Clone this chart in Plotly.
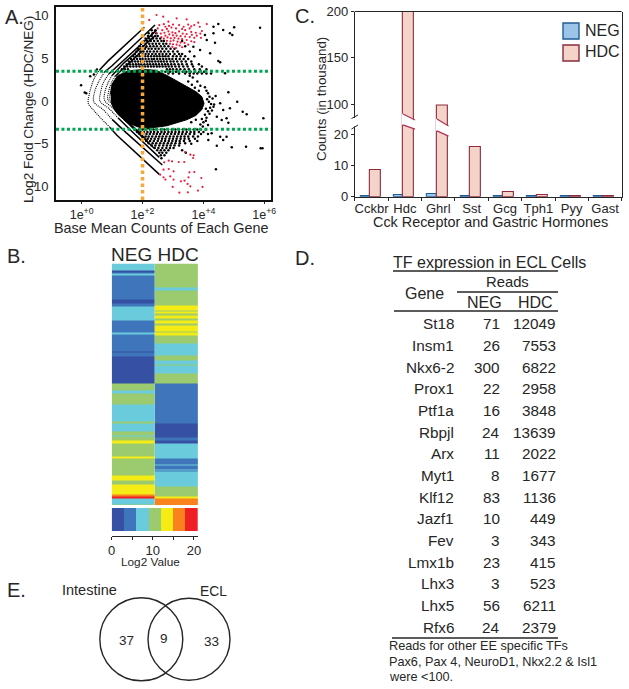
import plotly.graph_objects as go

W, H = 629, 689
FONT = "Liberation Sans"
INK = "#262626"

def px(v):
    return v / W

def py(v):
    return 1 - v / H

# ---------- Panel A data: log10 base mean / log2 fold change
CORE_LX = [0.95, 1.0, 1.2, 1.5, 2.0, 2.45, 2.8, 3.2, 3.45, 3.75, 3.95, 4.02, 3.95, 3.75, 3.45, 3.1, 2.8, 2.4, 2.05, 1.75, 1.45, 1.2, 1.05, 0.97]
CORE_Y = [0.8, 2.0, 3.0, 3.5, 3.7, 3.6, 3.0, 2.2, 1.6, 1.1, 0.5, -0.3, -1.0, -1.7, -2.2, -2.6, -2.9, -3.1, -3.3, -2.9, -2.4, -1.6, -0.9, -0.2]

ARM_LX = [
    [0.6, 0.87, 2.06], [0.75, 0.99, 2.41], [0.9, 1.2, 2.46], [1.0, 1.4, 2.4], [1.1, 1.5, 2.15],
    [0.93, 1.15, 2.55], [1.0, 1.46, 2.65], [1.2, 1.6, 2.55], [1.4, 1.8, 2.4], [1.5, 1.9, 2.2],
]
ARM_Y = [
    [3.7, 4.7, 8.65], [3.4, 4.1, 8.9], [3.2, 4.2, 8.3], [3.0, 4.5, 7.6], [2.9, 4.2, 6.4],
    [-3.1, -3.98, -8.6], [-2.15, -3.7, -7.5], [-2.0, -3.4, -6.6], [-2.2, -3.6, -5.6], [-2.4, -3.7, -4.9],
]
FAN_LX = [
    [0.6, 0.42, 0.25, 0.22, 0.35, 0.6, 0.93],
    [0.75, 0.55, 0.42, 0.4, 0.7, 1.0],
    [0.9, 0.72, 0.62, 0.6, 0.9, 1.2],
    [1.0, 0.85, 0.76, 0.75, 1.05, 1.4],
    [1.1, 0.95, 0.88, 0.86, 1.15, 1.5],
    [1.2, 1.02, 0.95, 0.93, 1.2, 1.6],
]
FAN_Y = [
    [3.7, 2.7, 0.8, -0.3, -0.9, -1.9, -3.1],
    [3.4, 2.2, 1.0, -0.1, -1.0, -2.15],
    [3.2, 2.2, 1.0, 0.0, -0.9, -2.0],
    [3.0, 2.0, 1.0, 0.1, -0.9, -2.2],
    [2.9, 1.9, 1.0, 0.2, -0.8, -2.4],
    [3.1, 2.0, 1.1, 0.2, -0.9, -2.5],
]

ROW_Y = [8.3, 7.95, 7.62, 7.33, 7.02, 6.72, 6.41, 6.12, 5.81, 5.52, 5.23, 4.92, 4.63, 4.32, 4.03, 3.72,
         3.42, 3.21, -3.35, -3.62, -3.88, -4.15, -4.42, -4.68, -4.95, -5.22, -5.5, -5.78, -6.05, -6.35, -6.7]
ROW_LX = [
    [2.3, 2.42],
    [2.2, 2.33, 2.45],
    [2.18, 2.3, 2.42, 2.5],
    [2.1, 2.22, 2.34, 2.46, 2.58],
    [2.05, 2.15, 2.27, 2.38, 2.5, 2.62, 2.7, 3.3],
    [1.95, 2.1, 2.22, 2.33, 2.44, 2.55, 2.68, 2.78],
    [1.9, 2.02, 2.13, 2.25, 2.36, 2.47, 2.6, 2.72, 2.85, 3.4],
    [1.85, 1.97, 2.08, 2.2, 2.3, 2.42, 2.53, 2.65, 2.78, 2.92, 3.05],
    [1.8, 1.93, 2.03, 2.15, 2.25, 2.37, 2.48, 2.6, 2.72, 2.85, 3.0, 3.15, 3.55],
    [1.75, 1.88, 2.0, 2.1, 2.2, 2.32, 2.43, 2.55, 2.66, 2.78, 2.9, 3.05, 3.2, 3.3],
    [1.7, 1.8, 1.9, 2.0, 2.09, 2.18, 2.28, 2.38, 2.47, 2.56, 2.66, 2.75, 2.85, 3.0, 3.12, 3.25, 3.4, 3.7],
    [1.62, 1.72, 1.82, 1.92, 2.0, 2.1, 2.2, 2.3, 2.38, 2.48, 2.58, 2.68, 2.78, 2.88, 2.98, 3.1, 3.22, 3.35, 3.5],
    [1.55, 1.66, 1.76, 1.85, 1.95, 2.04, 2.14, 2.23, 2.32, 2.42, 2.52, 2.61, 2.7, 2.8, 2.92, 3.02, 3.14, 3.28, 3.42, 3.6],
    [1.48, 1.58, 1.68, 1.78, 1.87, 1.96, 2.06, 2.16, 2.25, 2.35, 2.44, 2.54, 2.64, 2.74, 2.83, 2.94, 3.05, 3.18, 3.3, 3.45, 3.62, 3.85],
    [1.4, 1.5, 1.6, 1.7, 1.8, 1.9, 2.0, 2.09, 2.18, 2.28, 2.37, 2.47, 2.56, 2.66, 2.76, 2.86, 2.96, 3.08, 3.2, 3.34, 3.48, 3.66, 3.95],
    [1.32, 1.42, 1.52, 2.8, 2.9, 3.0, 3.12, 3.24, 3.38, 3.52, 3.7, 3.88, 4.1],
    [2.75, 2.9, 3.0, 3.1, 3.2, 3.32, 3.44, 3.58, 3.72, 3.86, 4.02],
    [2.85, 3.0, 3.2, 3.4, 3.55, 3.68, 3.8, 3.95, 4.1, 4.25],
    [1.75, 1.88, 2.0, 2.12, 2.24, 2.36, 2.48, 2.6, 2.72, 2.84, 2.96, 3.08, 3.2, 3.32, 3.44, 3.56, 3.68, 3.8, 3.92, 4.08],
    [1.82, 1.94, 2.05, 2.16, 2.27, 2.38, 2.5, 2.62, 2.73, 2.85, 2.96, 3.08, 3.2, 3.32, 3.45, 3.58, 3.7, 3.85, 4.0],
    [1.9, 2.02, 2.13, 2.24, 2.36, 2.47, 2.58, 2.7, 2.82, 2.94, 3.06, 3.18, 3.3, 3.42, 3.55, 3.7, 3.92, 4.15],
    [1.98, 2.1, 2.2, 2.32, 2.44, 2.55, 2.66, 2.78, 2.9, 3.02, 3.14, 3.26, 3.38, 3.5, 3.66, 3.82],
    [2.05, 2.17, 2.28, 2.4, 2.52, 2.64, 2.75, 2.88, 3.0, 3.12, 3.25, 3.38, 3.52, 3.72],
    [2.12, 2.25, 2.37, 2.5, 2.62, 2.74, 2.86, 2.98, 3.1, 3.22, 3.36, 3.55],
    [2.2, 2.33, 2.45, 2.58, 2.7, 2.83, 2.95, 3.08, 3.22, 3.4],
    [2.3, 2.42, 2.55, 2.68, 2.8, 2.92, 3.05, 3.2],
    [2.4, 2.52, 2.65, 2.78, 2.9, 3.02],
    [2.48, 2.6, 2.72, 2.85, 3.3],
    [2.55, 2.65, 2.78, 3.42],
    [2.6, 2.72],
    [2.62],
]
FRINGE_LX = [4.05, 4.1, 4.15, 4.2, 4.12, 4.18, 4.25, 4.3, 4.08, 4.15, 4.22, 4.05, 4.1, 4.2, 3.95, 4.0, 4.08, 4.15, 3.9, 3.98, 3.8, 3.9, 3.65, 3.55, 4.28, 4.35, 4.4, 3.5, 3.62, 3.72, 3.85, 3.6, 3.75]
FRINGE_Y = [1.6, 1.2, 0.9, 0.5, 0.2, -0.1, -0.35, 0.3, -0.9, -1.2, -0.8, -1.6, -1.95, -1.5, -2.1, -2.5, -2.3, -2.8, -2.75, -3.0, 2.3, 1.8, 2.75, 2.95, -1.1, -0.4, 0.6, 2.3, 1.9, 1.55, 1.2, -2.5, -2.2]
LONE_LX = [4.33, 4.49, 4.65, 5.01, 4.87, 4.95, 5.86, 4.38, 4.49, 4.55, 4.05, 4.11, 3.67, 3.89, 4.71, 4.22, 4.33,
           4.82, 5.11, 4.87, 5.29, 5.42, 5.97, 4.65, 4.44, 4.76, 4.82, 4.55, 4.33, 4.6,
           4.93, 5.4, 5.88, 5.94, 4.76, 4.55, 4.65, 4.44, 4.27, 4.16, 4.41,
           -0.02, 0.15, 0.28, 0.1, 0.4, 0.5, 3.6, 3.8]
LONE_Y = [8.71, 9.02, 8.32, 8.63, 7.93, 7.73, 8.59, 6.84, 4.69, 4.53, 7.73, 7.15, 6.37, 5.98, 3.24, 5.59, 7.93,
          1.02, -0.08, -0.86, -1.25, -1.56, -2.03, -1.05, -1.84, -2.03, -2.54, -0.27, -0.66, -2.23,
          -5.43, -5.35, -5.55, -5.55, -4.18, -4.18, -4.57, -5.23, -3.79, -4.57, -8.0,
          1.85, 0.9, 2.9, 1.0, 3.1, 3.7, -5.0, -4.7]
RED_LX = [2.46, 2.68, 2.22, 3.45, 3.83, 4.11, 3.12, 2.55, 2.7, 2.85, 3.2, 3.5, 3.7, 3.88, 3.95, 3.9, 3.75, 3.6, 3.55, 3.4,
          3.3, 3.1, 2.95, 2.8, 2.65, 2.5, 2.45, 2.6, 2.72, 2.85, 2.98, 3.08, 3.2, 3.32, 3.45, 3.62, 3.78, 3.92, 3.7, 3.55,
          3.4, 3.25, 3.12, 3.0, 2.88, 2.75, 2.62, 2.7, 2.82, 2.93, 3.05, 3.18, 3.3, 3.45, 3.6, 2.8, 2.92, 3.02, 3.15, 3.25,
          3.38, 2.9, 3.0, 3.12, 3.22, 2.98, 3.3, 3.1, 3.5, 3.7, 2.87, 3.0, 3.35, 3.6, 2.75,
          2.71, 2.86, 2.97, 3.19, 3.37, 3.57, 3.68, 3.66, 3.4, 2.69, 2.86, 3.02, 2.91, 3.02, 2.69, 2.75, 3.54, 3.7, 3.38, 3.26,
          3.51, 3.93, 3.48, 3.57, 2.99, 3.97, 3.82, 3.49, 3.21, 2.58]
RED_Y = [10.08, 9.88, 9.5, 9.57, 9.18, 9.02, 9.69, 8.9, 9.0, 9.3, 8.9, 8.95, 8.9, 8.7, 8.2, 7.9, 8.0, 8.1, 8.5, 8.3,
         8.45, 8.5, 8.6, 8.45, 8.3, 8.5, 8.0, 7.9, 8.0, 8.15, 8.05, 7.95, 8.15, 7.9, 7.85, 7.75, 7.65, 7.4, 7.4, 7.5,
         7.55, 7.6, 7.65, 7.7, 7.8, 7.65, 7.5, 7.3, 7.45, 7.35, 7.4, 7.3, 7.25, 7.15, 7.0, 7.05, 7.0, 7.1, 6.95, 6.85,
         6.8, 6.7, 6.65, 6.6, 6.5, 6.35, 6.3, 6.2, 6.6, 6.9, 8.8, 8.95, 8.7, 8.75, 8.7,
         -7.19, -6.99, -7.07, -7.15, -7.15, -6.29, -6.37, -6.68, -5.98, -8.05, -7.97, -8.24, -8.82, -9.21, -8.94, -9.21, -8.36, -8.32, -9.33, -9.41,
         -8.94, -9.02, -9.72, -10.0, -10.07, -10.07, -10.5, -10.7, -10.74, -8.63]
FC_CUTS = [3.5, -3.3]
MEAN_CUT = 100
A_XTICKS = [1, 100, 10000, 1000000]
A_XLABELS = ["1e<sup>+0</sup>", "1e<sup>+2</sup>", "1e<sup>+4</sup>", "1e<sup>+6</sup>"]
A_YTICKS = [10, 5, 0, -5, -10]

# ---------- Panel B data
LEVEL_COLORS = ["#3651A4", "#3F76BB", "#6ACBDC", "#9BCB6E", "#F5EC16", "#F9821F", "#EE2024"]
NEG_LEVELS = [2, 0, 1, 2, 1, 0, 1, 2, 1, 2, 1, 0, 1, 0, 3, 2, 3, 2, 3, 2, 3, 2, 3, 4, 3, 4, 3, 4, 3, 4, 5, 6, 2, 3]
NEG_HEIGHTS = [22, 4, 4, 6, 72, 12, 8, 42, 36, 6, 52, 2, 14, 80, 22, 8, 34, 51, 5, 25, 10, 5, 10, 10, 38, 6, 52, 14, 12, 30, 8, 6, 16, 3]
HDC_LEVELS = [3, 2, 3, 4, 3, 4, 3, 4, 3, 4, 3, 4, 3, 4, 3, 2, 3, 2, 3, 2, 3, 1, 0, 1, 0, 2, 1, 2, 1, 2, 1, 2, 3, 4, 5, 4, 5]
HDC_HEIGHTS = [73, 7, 47, 13, 4, 6, 5, 9, 6, 10, 6, 18, 4, 9, 23, 35, 15, 12, 4, 24, 30, 120, 42, 8, 10, 45, 17, 5, 10, 4, 4, 43, 32, 6, 7, 2, 10]
SCALE_EDGES = [0, 3, 6, 9, 12, 15, 18, 21]
SCALE_LEVELS = [0, 1, 2, 3, 4, 5, 6]
SCALE_TICKS = [0, 10, 20]

# ---------- Panel C data
GENES_C = ["Cckbr", "Hdc", "Ghrl", "Sst", "Gcg", "Tph1", "Pyy", "Gast"]
NEG_COUNTS = [0.3, 0.7, 1.0, 0.3, 0.3, 0.2, 0.2, 0.2]
HDC_COUNTS = [8.7, 200, 99, 16.2, 1.4, 0.7, 0.3, 0.2]
LOW_TICKS = [0, 10, 20]
HIGH_TICKS = [100, 150, 200]

# ---------- Panel D data
TF_GENES = ["St18", "Insm1", "Nkx6-2", "Prox1", "Ptf1a", "Rbpjl", "Arx", "Myt1", "Klf12", "Jazf1", "Fev", "Lmx1b", "Lhx3", "Lhx5", "Rfx6"]
TF_NEG = [71, 26, 300, 22, 16, 24, 11, 8, 83, 10, 3, 23, 3, 56, 24]
TF_HDC = [12049, 7553, 6822, 2958, 3848, 13639, 2022, 1677, 1136, 449, 343, 415, 523, 6211, 2379]
FOOTNOTE = ["Reads for other EE specific TFs", "Pax6, Pax 4, NeuroD1, Nkx2.2 &amp; Isl1", "were &lt;100."]

# ---------- Panel E data
VENN_LEFT, VENN_MID, VENN_RIGHT = 37, 9, 33

fig = go.Figure()
annos = []
shapes = []


def note(text, x, y, size=13, anchor="center", angle=0, color=INK):
    annos.append(dict(text=text, x=px(x), y=py(y), xref="paper", yref="paper", showarrow=False, xanchor=anchor,
                      yanchor="middle", textangle=angle, font=dict(family=FONT, size=size, color=color)))


def seg(x0, y0, x1, y1, color=INK, width=1.0):
    shapes.append(dict(type="line", xref="paper", yref="paper", x0=px(x0), y0=py(y0), x1=px(x1), y1=py(y1),
                       line=dict(color=color, width=width)))


def poly(points, fill="white"):
    path = "M " + " L ".join(f"{px(a):.5f},{py(b):.5f}" for a, b in points) + " Z"
    shapes.append(dict(type="path", xref="paper", yref="paper", path=path, fillcolor=fill, line=dict(width=0), layer="above"))


# ---------- Panel A traces
fig.add_trace(go.Scatter(x=[10 ** v for v in CORE_LX], y=CORE_Y, mode="lines", fill="toself", fillcolor="black",
                         line=dict(color="black", width=1), xaxis="x", yaxis="y", hoverinfo="skip", showlegend=False))
for lx, ly in zip(FAN_LX, FAN_Y):
    fig.add_trace(go.Scatter(x=[10 ** v for v in lx], y=ly, mode="lines", line=dict(color="black", width=1.1, dash="1px,1px", shape="spline"),
                             xaxis="x", yaxis="y", showlegend=False))
for lx, ly in zip(ARM_LX, ARM_Y):
    fig.add_trace(go.Scatter(x=[10 ** v for v in lx], y=ly, mode="lines", line=dict(color="black", width=1.5),
                             xaxis="x", yaxis="y", showlegend=False))
dot_x, dot_y = [], []
for yv, row in zip(ROW_Y, ROW_LX):
    for v in row:
        dot_x.append(10 ** v)
        dot_y.append(yv)
dot_x += [10 ** v for v in FRINGE_LX + LONE_LX]
dot_y += FRINGE_Y + LONE_Y
fig.add_trace(go.Scatter(x=dot_x, y=dot_y, mode="markers", marker=dict(color="black", size=2.5, line=dict(width=0)),
                         xaxis="x", yaxis="y", showlegend=False))
fig.add_trace(go.Scatter(x=[10 ** v for v in RED_LX], y=RED_Y, mode="markers", marker=dict(color="#ED1C3A", size=2.2, line=dict(width=0)),
                         xaxis="x", yaxis="y", showlegend=False))
A_XSPAN = [0.143, 1.622e6]
A_YSPAN = [-11.6, 10.98]
for cut in FC_CUTS:
    fig.add_trace(go.Scatter(x=A_XSPAN, y=[cut, cut], mode="lines", line=dict(color="#00A651", width=3, dash="3px,2.5px"),
                             xaxis="x", yaxis="y", showlegend=False))
fig.add_trace(go.Scatter(x=[MEAN_CUT, MEAN_CUT], y=A_YSPAN, mode="lines", line=dict(color="#F7A937", width=3.5, dash="3.5px,3px"),
                         xaxis="x", yaxis="y", showlegend=False))

# ---------- Panel B traces
steps = []
for i, c in enumerate(LEVEL_COLORS):
    steps += [[i / 7, c], [(i + 1) / 7, c]]


def edges(heights):
    out = [0]
    for h in heights:
        out.append(out[-1] + h)
    return out


fig.add_trace(go.Heatmap(z=[[v] for v in NEG_LEVELS], x=[0, 1], y=edges(NEG_HEIGHTS), colorscale=steps, zmin=-0.5, zmax=6.5,
                         showscale=False, xaxis="x2", yaxis="y2"))
fig.add_trace(go.Heatmap(z=[[v] for v in HDC_LEVELS], x=[1, 2], y=edges(HDC_HEIGHTS), colorscale=steps, zmin=-0.5, zmax=6.5,
                         showscale=False, xaxis="x2", yaxis="y2"))
fig.add_trace(go.Heatmap(z=[SCALE_LEVELS], x=SCALE_EDGES, y=[0, 1], colorscale=steps, zmin=-0.5, zmax=6.5,
                         showscale=False, xaxis="x5", yaxis="y5"))

# ---------- Panel C traces
X_POS = list(range(len(GENES_C)))
NEG_FILL, NEG_EDGE, HDC_FILL, HDC_EDGE = "#9CC3E8", "#1F5E96", "#F4D4C8", "#8C2B3E"
for ax in ("y3", "y4"):
    fig.add_trace(go.Bar(x=X_POS, y=NEG_COUNTS, width=0.28, offset=-0.33, marker=dict(color=NEG_FILL, line=dict(color=NEG_EDGE, width=1.1)),
                         xaxis="x3", yaxis=ax, showlegend=False))
    fig.add_trace(go.Bar(x=X_POS, y=HDC_COUNTS, width=0.33, offset=-0.05, marker=dict(color=HDC_FILL, line=dict(color=HDC_EDGE, width=1.1)),
                         xaxis="x3", yaxis=ax, showlegend=False))

# Axis break on the bars and the spine
for top_l, top_r, bot_l, bot_r, x_l, x_r in ((113.5, 120.5, 124.5, 129.5, 402, 416), (118.5, 126.5, 130.5, 136.5, 436, 449.5)):
    poly([(x_l, top_l), (x_r, top_r), (x_r, bot_r), (x_l, bot_l)])
    seg(x_l + 1, top_l + 0.5, x_r - 1, top_r - 0.5, "#B03055", 1.2)
    seg(x_l + 1, bot_l + 0.4, x_r - 1, bot_r - 0.4, "#B03055", 1.2)
poly([(351, 118), (358, 118), (358, 126.5), (351, 126.5)])
seg(351.5, 118.5, 358, 115, INK, 1)
seg(351.5, 129, 358, 125, INK, 1)
seg(354.7, 11.5, 621.7, 11.5, INK, 1)
for top, fill, edge in ((23, NEG_FILL, NEG_EDGE), (45, HDC_FILL, HDC_EDGE)):
    shapes.append(dict(type="rect", xref="paper", yref="paper", x0=px(563), x1=px(579), y0=py(top), y1=py(top + 16),
                       fillcolor=fill, line=dict(color=edge, width=1.4)))
note("NEG", 583, 30.5, 16, "left")
note("HDC", 583, 51.5, 16, "left")

# ---------- Panel D
note("TF expression in ECL Cells", 489, 262, 16)
seg(393, 271, 558, 271, INK, 1.3)
note("Reads", 507, 282, 14.8)
seg(457, 292, 558, 292, INK, 1.3)
note("Gene", 424, 293, 16)
note("NEG", 484, 302, 16)
note("HDC", 535, 302, 16)
seg(394, 311, 558, 311, INK, 1.3)
for i, (g, n, h) in enumerate(zip(TF_GENES, TF_NEG, TF_HDC)):
    row = 324 + i * 21.65
    note(g, 456, row, 15.3, "right")
    note(str(n), 502, row, 15.3, "right")
    note(str(h), 558, row, 15.3, "right")
seg(392, 638, 558, 638, INK, 1.3)
for line, yp in zip(FOOTNOTE, (646, 662, 677)):
    note(line, 387, yp, 12.7, "left")

# ---------- Panel B text
note("NEG HDC", 154.5, 255, 19)
note("Log2 Value", 150, 562, 11.8)

# ---------- Panel E
for cx, r in ((141.3, 41.5), (189, 41)):
    shapes.append(dict(type="circle", xref="paper", yref="paper", x0=px(cx - r), x1=px(cx + r), y0=py(639.3 - r), y1=py(639.3 + r),
                       line=dict(color=INK, width=1.4)))
note("Intestine", 89, 590, 14.5)
note("ECL", 213, 591, 13.8)
note(str(VENN_LEFT), 126, 640, 13.5)
note(str(VENN_MID), 164, 638, 13.5)
note(str(VENN_RIGHT), 211, 641, 13.5)

# ---------- Panel labels and axis titles
note("A.", 14.5, 17, 20)
note("B.", 16, 256, 20)
note("C.", 305, 16, 20)
note("D.", 305, 258, 20)
note("E.", 16, 590, 20)
note("Base Mean Counts of Each Gene", 161, 228, 14.4)
note("Log2 Fold Change (HDC/NEG)", 29, 110, 13.6, angle=-90)
note("Cck Receptor and Gastric Hormones", 490, 222, 14.4)
note("Counts (in thousand)", 321, 99, 13.4, angle=-90)

tick_font = dict(family=FONT, size=13, color=INK)
fig.update_layout(
    width=W, height=H, margin=dict(l=0, r=0, t=0, b=0, autoexpand=False), paper_bgcolor="white", plot_bgcolor="white",
    showlegend=False, annotations=annos, shapes=shapes, bargap=0,
    xaxis=dict(domain=[px(56), px(270.7)], type="log", range=[-0.843, 6.21], tickvals=A_XTICKS, ticktext=A_XLABELS, automargin=False,
               ticks="outside", ticklen=2, tickwidth=1, tickcolor=INK, tickfont=dict(family=FONT, size=12.5, color=INK), showgrid=False, zeroline=False,
               showline=True, linecolor="#111111", linewidth=1.6, mirror=True),
    yaxis=dict(domain=[py(200), py(7.3)], range=[-11.6, 10.98], tickvals=A_YTICKS, ticks="outside", ticklen=3, automargin=False,
               tickcolor="rgba(0,0,0,0)", tickfont=tick_font, showgrid=False, zeroline=False, showline=True,
               linecolor="#111111", linewidth=1.6, mirror=True),
    xaxis2=dict(domain=[px(111.7), px(198)], range=[0, 2], visible=False, automargin=False),
    yaxis2=dict(domain=[py(505), py(263.5)], range=[725, 0], visible=False, automargin=False),
    xaxis5=dict(domain=[px(111.7), px(198)], range=[0, 21], anchor="free", position=py(535.7), tickvals=SCALE_TICKS, automargin=False,
                ticks="outside", ticklen=3, tickwidth=1, tickcolor=INK, tickfont=tick_font, showline=True, linecolor=INK, linewidth=1,
                minor=dict(ticks="outside", tick0=0, dtick=5, ticklen=3, tickcolor=INK, tickwidth=1, showgrid=False),
                showgrid=False, zeroline=False),
    yaxis5=dict(domain=[py(531), py(508)], range=[0, 1], visible=False, automargin=False),
    xaxis3=dict(domain=[px(354.9), px(621.7)], range=[-0.5, 7.5], anchor="y3", tickvals=X_POS, ticktext=GENES_C, ticks="", automargin=False,
                minor=dict(ticks="outside", tick0=-0.5, dtick=1, ticklen=3, tickcolor=INK, tickwidth=1, showgrid=False),
                tickfont=tick_font, showline=True, linecolor=INK, linewidth=1, showgrid=False, zeroline=False),
    yaxis3=dict(domain=[py(196.8), py(124)], range=[0, 23.5], tickvals=LOW_TICKS, ticks="outside", ticklen=3, tickcolor=INK, tickfont=tick_font,
                anchor="x3", showline=True, linecolor=INK, linewidth=1, mirror=True, showgrid=False, zeroline=False, automargin=False),
    yaxis4=dict(domain=[py(127), py(11.5)], range=[75.3, 200], tickvals=HIGH_TICKS, ticks="outside", ticklen=3, tickcolor=INK, tickfont=tick_font,
                anchor="x3", showline=True, linecolor=INK, linewidth=1, mirror=True, showgrid=False, zeroline=False, automargin=False),
)

fig.write_html("out.html", config=dict(displayModeBar=False),
               post_script="document.body.style.margin='0';document.body.style.overflow='hidden';")
